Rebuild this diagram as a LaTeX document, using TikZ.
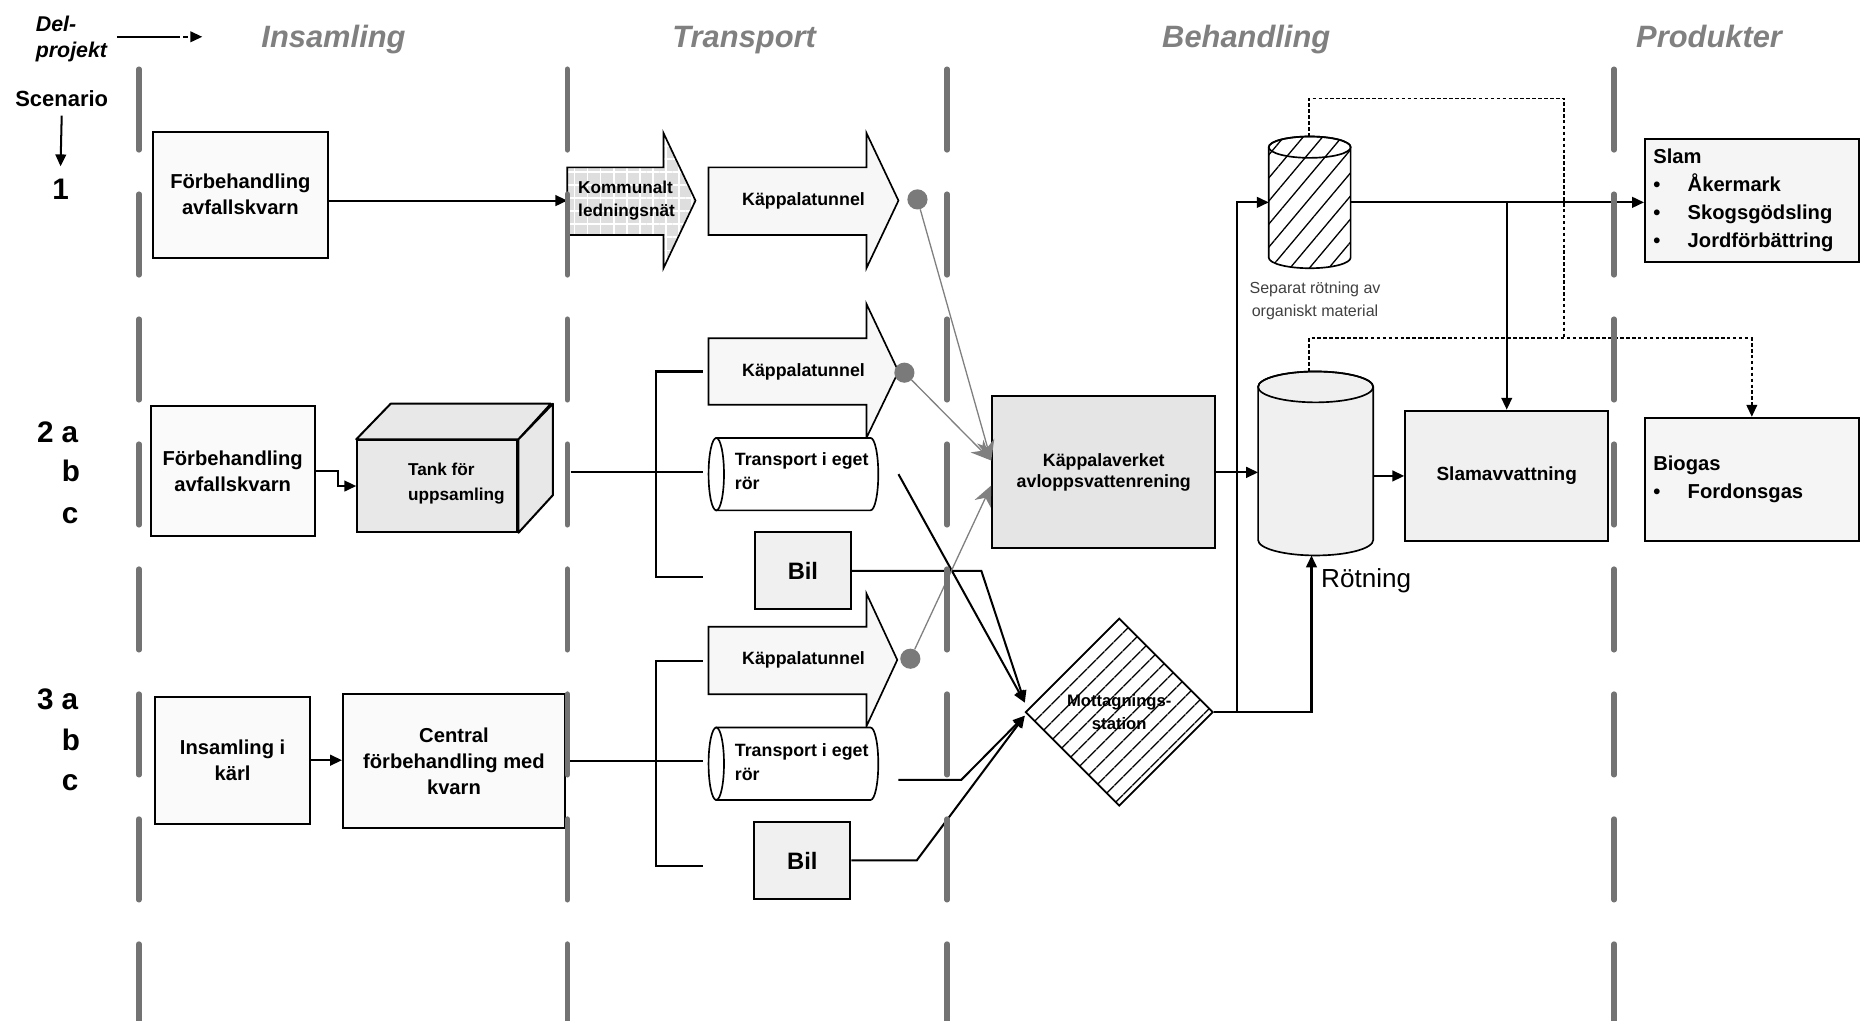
\documentclass[tikz,border=0pt]{standalone}
\usepackage{fontspec}
\setmainfont{Liberation Sans}
\usepackage{tikz}
\usetikzlibrary{ % tikz packages
    positioning,shapes.geometric,
    arrows.meta,patterns.meta
}
\newcommand{\prodbullet}{\makebox[29pt][l]{\textbullet}}
\tikzset{>={Triangle[length=10pt,width=9pt]}}
\tikzset{
    lane/.style={draw=black!55, line width=4.6pt, line cap=round,
        dash pattern=on 68pt off 37.3pt},
    phase/.style={text=black!50, inner sep=0pt,
        font=\fontsize{26}{30}\selectfont\bfseries\itshape},
    num/.style={font=\fontsize{25}{30}\selectfont\bfseries, inner sep=0pt},
    box/.style={draw, line width=1.7pt, inner sep=0pt, align=center,
        fill=black!2, font=\fontsize{17}{22}\selectfont\bfseries},
    bil/.style={box, fill=black!6, minimum width=81pt, minimum height=65pt,
        font=\fontsize{20}{24}\selectfont\bfseries},
    tunnel/.style={draw, line width=1.4pt, fill=black!3, line join=miter},
    lbl/.style={font=\fontsize{15}{20}\selectfont\bfseries, align=left, inner sep=0pt},
    pipe/.style={draw, line width=1.4pt, fill=white},
    frame/.style={inner sep=0pt, outer sep=0pt},
    dot/.style={circle, fill=black!52, inner sep=0pt, minimum size=17pt},
    feed/.style={draw=black!50, line width=1.1pt, -{Stealth[length=17pt,width=15pt]}},
    conn/.style={line width=1.7pt},
    gasline/.style={line width=1.4pt, dash pattern=on 3pt off 2pt},
    prod/.style={draw, line width=1.7pt, fill=black!4, minimum height=104pt,
        text width=166pt, inner xsep=7pt, align=left,
        font=\fontsize{17}{23.5}\selectfont\bfseries}
}

\begin{document}
\begin{tikzpicture}[x=1pt,y=-1pt]
\useasboundingbox (0,0) rectangle (1568,860);

% headings
\node[anchor=west, align=left, inner sep=0pt,
    font=\fontsize{18}{22}\selectfont\bfseries\itshape] (delp) at (30,33) {Del-\\projekt};
\draw[line width=1.4pt, ->, dash pattern=on 53pt off 3pt on 4pt off 3pt]
    ([xshift=8pt,yshift=2pt]delp.east) -- ++(72,0);
\node[phase, anchor=base] (ph1) at (281,40) {Insamling};
\node[phase, anchor=base] (ph2) at (627,40) {Transport};
\node[phase, anchor=base] (ph3) at (1050,40) {Behandling};
\node[phase, anchor=base] (ph4) at (1440,40) {Produkter};

\node[anchor=base, inner sep=0pt, font=\fontsize{18.5}{22}\selectfont\bfseries]
    (scen) at (52,90) {Scenario};
\node[num, anchor=base] (s1) at (51,168.5) {1};
\draw[conn,->] ([yshift=-7pt]scen.south) -- ([yshift=11pt]s1.north);
\node[num, anchor=base west] (s2) at (31,373) {2 a};
\node[num, anchor=base west] (s2b) at (52,406) {b};
\node[num, anchor=base west] (s2c) at (52,441) {c};
\node[num, anchor=base west] (s3) at (31,598) {3 a};
\node[num, anchor=base west] (s3b) at (52,632) {b};
\node[num, anchor=base west] (s3c) at (52,666) {c};

% scenario 1
\node[box, minimum width=147pt, minimum height=106pt] (fb1) at (202.5,164) {Förbehandling\\avfallskvarn};
\path[draw, line width=1.4pt, line join=miter, preaction={fill=black!13},
    pattern={Hatch[distance=11pt,line width=1.5pt]}, pattern color=white]
    (478,141) -- (559,141) -- (559,112) -- (586,169) -- (559,226) -- (559,198) -- (478,198) -- cycle;
\node[lbl, font=\fontsize{14.5}{19}\selectfont\bfseries, anchor=west] (kom) at (487,169) {Kommunalt\\ledningsnät};
\coordinate (komw) at (478,169);
\draw[conn,->] (fb1.east |- komw) -- (komw);

\draw[tunnel] (597,141) -- (730,141) -- (730,112) -- (757,169) -- (730,226) -- (730,198) -- (597,198) -- cycle;
\node[lbl] (kt1) at (677,169) {Käppalatunnel};
\node[dot] (d1) at (773,168) {};

% scenario 2
\draw[tunnel] (597,285) -- (730,285) -- (730,256) -- (757,313) -- (730,369) -- (730,341) -- (597,341) -- cycle;
\node[lbl] (kt2) at (677,313) {Käppalatunnel};
\node[dot] (d2) at (762,314) {};

\path[pipe] (603.5,369) -- (733.5,369) arc[start angle=90,end angle=-90,x radius=6.5pt,y radius=30.5pt] -- (603.5,430) -- cycle;
\path[pipe] (603.5,399.5) ellipse[x radius=6.5pt,y radius=30.5pt];
\node[frame, minimum width=143pt, minimum height=61pt] (tr1) at (668.5,399.5) {};
\node[lbl, anchor=west] (tr1t) at (619,397) {Transport i eget\\rör};

\node[bil] (bil1) at (676.5,481) {Bil};

\node[box, minimum width=138pt, minimum height=110pt] (fb2) at (196,397) {Förbehandling\\avfallskvarn};
\node[box, fill=black!9, minimum width=135pt, minimum height=77pt] (tank) at (368.5,409.5) {};
\draw[line width=1.7pt, fill=black!9, line join=round]
    (tank.north west) -- ++(29,-30) -- ++(135,0) -- (tank.north east) -- cycle;
\draw[line width=1.7pt, fill=black!9, line join=round]
    (tank.north east) -- ++(29,-30) -- ++(0,77) -- (tank.south east) -- cycle;
\node[lbl, font=\fontsize{14.5}{21}\selectfont\bfseries] (tankt) at (384.5,407.5) {Tank för\\uppsamling};
\draw[conn,->] (fb2.east) -- ++(19,0) |- (tank.west);
\draw[conn] ([xshift=44pt,yshift=11.5pt]tank.east) -- ([xshift=-5pt,yshift=1.5pt]tr1.west);

\coordinate (kt2w) at (592,313);
\coordinate (bil1w) at (592,486);
\draw[conn] (kt2w) -| ([xshift=-44pt]tr1.west) |- (bil1w);

\node[box, fill=black!10, minimum width=188pt, minimum height=128pt,
    font=\fontsize{15}{18}\selectfont\bfseries] (kv) at (930,398) {Käppalaverket\\avloppsvattenrening};

% scenario 3
\draw[tunnel] (597,528) -- (730,528) -- (730,500) -- (756,556) -- (730,612) -- (730,585) -- (597,585) -- cycle;
\node[lbl] (kt3) at (677,556) {Käppalatunnel};
\node[dot] (d3) at (767,555) {};

\path[pipe] (603.5,613) -- (733.5,613) arc[start angle=90,end angle=-90,x radius=6.5pt,y radius=30.5pt] -- (603.5,674) -- cycle;
\path[pipe] (603.5,643.5) ellipse[x radius=6.5pt,y radius=30.5pt];
\node[frame, minimum width=143pt, minimum height=61pt] (tr2) at (668.5,643.5) {};
\node[lbl, anchor=west] (tr2t) at (619,642) {Transport i eget\\rör};

\node[bil] (bil2) at (676,725) {Bil};

\node[box, minimum width=130pt, minimum height=107pt] (ins) at (196,640.5) {Insamling i\\kärl};
\node[box, minimum width=187pt, minimum height=113pt] (cen) at (382.5,641.5) {Central\\förbehandling med\\kvarn};
\draw[conn,->] (ins.east) -- (ins.east -| cen.west);
\draw[conn] (cen.east) -- ([xshift=-5pt]cen.east -| tr2.west);

\coordinate (kt3w) at (592,557);
\coordinate (bil2w) at (592,730);
\draw[conn] (kt3w) -| ([xshift=-44pt]tr2.west) |- (bil2w);

% mottagning
\node[diamond, draw, line width=1.4pt, minimum width=158pt, minimum height=158pt, inner sep=0pt,
    pattern={Lines[angle=45,distance=10.5pt,line width=1.1pt]}, align=center,
    font=\fontsize{14}{19}\selectfont\bfseries] (mot) at (943,600) {Mottagnings-\\station};
\coordinate (motA) at ([yshift=8pt]mot.west);
\coordinate (motB) at ([yshift=-3pt]mot.west);
\draw[conn,->] ([xshift=17pt]tr1.east) -- (motA);
\draw[conn,->] (bil1.east) -- ++(109,0) -- (motA);
\draw[conn,->] ([xshift=17pt,yshift=-13.5pt]tr2.east) -- ++(53,0) -- (motB);
\draw[conn,->] (bil2.east) -- ++(55,0) -- (motB);

% tunnels into Kappalaverket
\coordinate (kvA) at ([yshift=10pt]kv.west);
\coordinate (kvB) at ([yshift=-11pt]kv.west);
\draw[feed] (d1) -- (kvA);
\draw[feed] (d2) -- (kvA);
\draw[feed] (d3) -- (kvB);

% digesters
\path[draw, line width=1.4pt, pattern={Lines[angle=50,distance=12.5pt,line width=1.1pt]}]
    (1069,124) -- (1069,217) arc[start angle=180,end angle=360,x radius=34.5pt,y radius=9pt]
    -- (1138,124) arc[start angle=0,end angle=180,x radius=34.5pt,y radius=9pt] -- cycle;
\draw[line width=1.4pt] (1103.5,124) ellipse[x radius=34.5pt,y radius=9pt];
\node[frame, minimum width=69pt, minimum height=111pt] (sep) at (1103.5,170.5) {};
\node[font=\fontsize{13.5}{19}\selectfont, text=black!75, align=center] (sept) at (1108,253.5)
    {Separat rötning av\\organiskt material};

\path[draw, line width=1.4pt, fill=black!6]
    (1060,326) -- (1060,455) arc[start angle=180,end angle=360,x radius=48.5pt,y radius=13pt]
    -- (1157,326) arc[start angle=0,end angle=180,x radius=48.5pt,y radius=13pt] -- cycle;
\draw[line width=1.4pt] (1108.5,326) ellipse[x radius=48.5pt,y radius=13pt];
\node[frame, minimum width=97pt, minimum height=155pt] (rot) at (1108.5,390.5) {};
\node[font=\fontsize{22}{26}\selectfont, anchor=west, inner sep=0pt] (rott) at (1113,489) {Rötning};

\node[box, fill=black!6, minimum width=171pt, minimum height=110pt,
    font=\fontsize{16}{20}\selectfont\bfseries] (slamav) at (1269.5,401) {Slamavvattning};

% products
\node[prod] (slam) at (1476,169) {Slam\\\prodbullet Åkermark\\\prodbullet Skogsgödsling\\\prodbullet Jordförbättring};
\node[prod] (biogas) at (1476,404) {Biogas\\\prodbullet Fordonsgas};

\draw[conn,->] (kv.east) -- (kv.east -| rot.west);
\draw[conn,->] (mot.east) -- ++(20,0) |- (sep.west);
\draw[conn,->] (mot.east) -| ([xshift=-3.5pt]rot.south);
\draw[conn,->] (sep.east) -- (sep.east -| slam.west);
\draw[conn,->] (sep.east -| slamav.north) -- (slamav.north);
\draw[conn,->] (rot.east |- slamav.west) -- (slamav.west);

\coordinate (gasj) at (1318,285);
\draw[gasline] ([xshift=-0.5pt]sep.north) -- ++(0,-32) -| (gasj);
\draw[gasline,->] ([xshift=-5.5pt]rot.north) |- (gasj) -| (biogas.north);

% lanes
\foreach \lx in {117,478,798,1360}
    \draw[lane] (\lx,58.3) -- (\lx,862);

\end{tikzpicture}
\end{document}
